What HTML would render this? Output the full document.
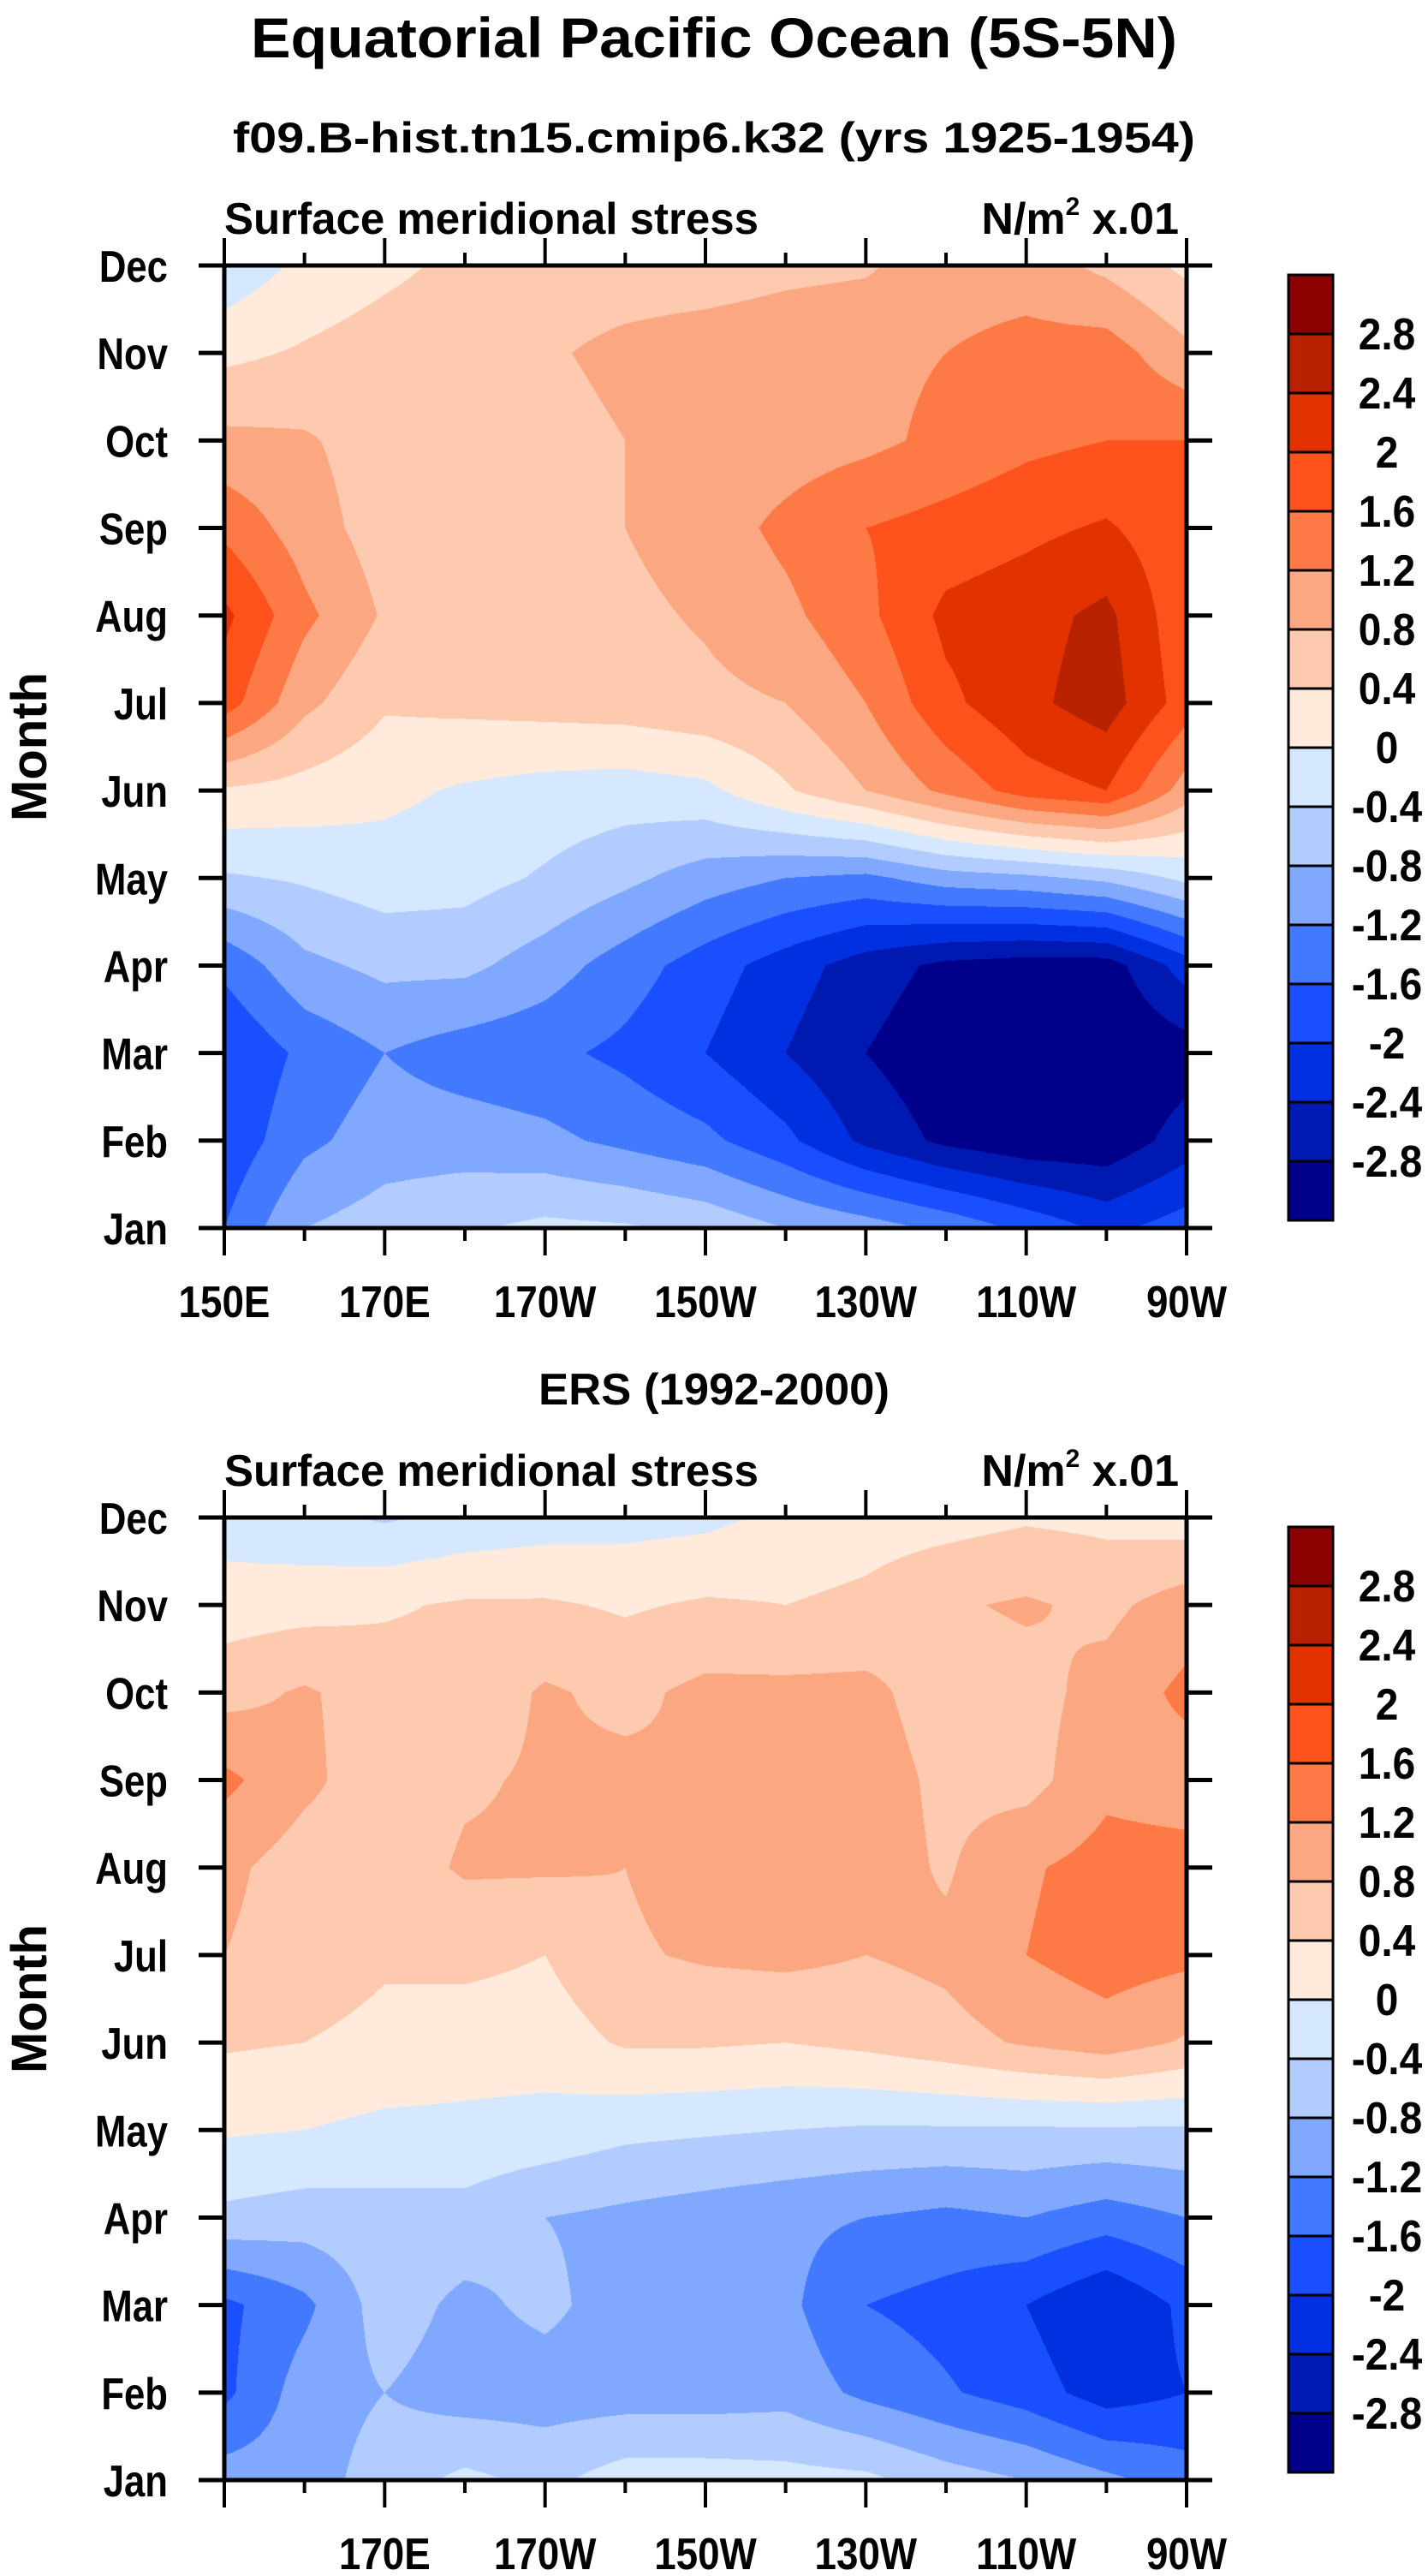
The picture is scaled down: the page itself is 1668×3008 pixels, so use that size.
<!DOCTYPE html>
<html><head><meta charset="utf-8"><style>
html,body{margin:0;padding:0;background:#fff;}
#wrap{position:relative;width:1668px;height:3008px;overflow:hidden;}
canvas{position:absolute;}
svg{position:absolute;left:0;top:0;}
text{font-family:"Liberation Sans",Arial,sans-serif;font-weight:bold;fill:#000;}
</style></head><body>
<div id="wrap">
<canvas id="c1" width="1124" height="1124" style="left:262px;top:310px"></canvas>
<canvas id="c2" width="1124" height="1124" style="left:262px;top:1772px"></canvas>
<svg id="s" width="1668" height="3008"></svg>
</div>
<script>
// ---- data ----
const lons = [150,160,170,180,190,200,210,220,230,240,250,260,270];
const months = ["Jan","Feb","Mar","Apr","May","Jun","Jul","Aug","Sep","Oct","Nov","Dec"];
const levels = [-2.8,-2.4,-2,-1.6,-1.2,-0.8,-0.4,0,0.4,0.8,1.2,1.6,2,2.4,2.8];
const levelLabels = ["-2.8","-2.4","-2","-1.6","-1.2","-0.8","-0.4","0","0.4","0.8","1.2","1.6","2","2.4","2.8"];
const colors = ["#00008a","#0019b0","#0030e0","#1a4fff","#4279ff","#80a8ff","#b3ccff","#d5e8ff","#ffeadb","#fdcab0","#fba882","#fd7a46","#fe521c","#e23200","#b82200","#8b0000"];
const xTickLons = [150,170,190,210,230,250,270];
const xTickLabels = ["150E","170E","170W","150W","130W","110W","90W"];
// model (rows Jan..Dec, columns 150E..90W)
const model = [
[-1.6,-0.8,-0.6,-0.45,-0.3,-0.35,-0.5,-0.8,-1.0,-1.3,-1.7,-2.1,-1.8],
[-1.9,-1.3,-1.0,-1.0,-1.1,-1.3,-1.5,-1.9,-2.5,-2.9,-3.1,-3.1,-2.6],
[-2.0,-1.5,-1.2,-1.4,-1.5,-1.7,-2.0,-2.4,-2.8,-3.1,-3.2,-3.2,-3.0],
[-1.5,-0.9,-0.7,-0.7,-1.0,-1.4,-1.8,-2.2,-2.6,-2.9,-3.0,-3.0,-2.2],
[-0.45,-0.35,-0.2,-0.25,-0.45,-0.7,-1.0,-1.2,-1.3,-1.0,-0.9,-0.7,-0.3],
[0.35,0.25,0.1,-0.05,-0.15,-0.2,-0.1,0.35,0.8,1.3,1.8,2.0,1.0],
[1.8,0.9,0.45,0.5,0.55,0.6,0.7,0.8,1.2,1.9,2.3,2.6,1.8],
[2.1,1.3,0.75,0.6,0.6,0.7,0.85,1.1,1.5,2.1,2.25,2.5,1.7],
[1.5,1.0,0.6,0.6,0.7,0.8,1.0,1.3,1.6,1.75,1.9,2.05,1.7],
[0.9,0.85,0.6,0.6,0.65,0.8,0.95,1.0,1.1,1.3,1.5,1.6,1.6],
[0.3,0.45,0.6,0.7,0.75,0.9,1.0,1.05,1.1,1.2,1.35,1.4,0.9],
[-0.3,0.1,0.3,0.5,0.6,0.6,0.6,0.7,0.75,1.0,1.0,0.7,0.3]
];
// ERS observations
const ers = [
[-1.0,-1.0,-0.6,-0.3,-0.5,-0.2,-0.2,-0.25,-0.3,-0.6,-0.8,-1.1,-1.4],
[-1.7,-1.0,-0.8,-1.0,-1.0,-1.0,-1.0,-0.95,-1.3,-1.55,-1.8,-2.2,-2.0],
[-1.7,-1.3,-0.6,-0.9,-0.7,-1.0,-1.0,-1.1,-1.6,-1.75,-2.0,-2.4,-1.9],
[-0.5,-0.6,-0.55,-0.55,-0.8,-0.9,-1.0,-1.1,-1.2,-1.3,-1.2,-1.4,-1.2],
[0.05,0.0,-0.1,-0.1,-0.15,-0.3,-0.35,-0.4,-0.45,-0.45,-0.45,-0.45,-0.45],
[0.45,0.4,0.3,0.2,0.2,0.45,0.45,0.4,0.5,0.65,0.85,1.0,0.75],
[0.8,0.6,0.45,0.5,0.4,0.75,0.85,0.9,0.8,0.9,1.2,1.4,1.3],
[0.9,0.6,0.6,0.85,0.85,0.8,0.95,1.0,1.0,0.75,1.15,1.35,1.35],
[1.3,0.9,0.55,0.75,0.85,0.9,0.8,0.95,1.0,0.7,0.65,1.1,1.0],
[0.65,0.85,0.6,0.55,0.85,0.7,0.9,0.9,0.9,0.6,0.65,0.95,1.3],
[0.2,0.25,0.35,0.45,0.45,0.35,0.45,0.4,0.5,0.75,0.85,0.7,1.0],
[-0.2,-0.3,-0.45,-0.3,-0.2,-0.15,-0.1,0.1,0.2,0.25,0.35,0.3,0.2]
];

const PL=262, PW=1124, PH=1124;
const plotTops=[310,1772];
function xOf(lon){return PL+(lon-150)/120*PW;}
function yOf(top,mi){return top+PH-mi/11*PH;}
function colorIdx(v){let i=0;while(i<levels.length&&v>=levels[i])i++;return i;}
function hexRGB(h){return [parseInt(h.substr(1,2),16),parseInt(h.substr(3,2),16),parseInt(h.substr(5,2),16)];}
const rgb=colors.map(hexRGB);

function drawField(canvas,grid){
  const ctx=canvas.getContext('2d');
  const img=ctx.createImageData(PW,PH);
  const nc=lons.length, nr=months.length;
  for(let py=0;py<PH;py++){
    const fr=(PH-0.5-py)/PH*(nr-1);
    let r0=Math.floor(fr); if(r0>=nr-1)r0=nr-2; if(r0<0)r0=0;
    const ty=fr-r0;
    for(let px=0;px<PW;px++){
      const fc=(px+0.5)/PW*(nc-1);
      let c0=Math.floor(fc); if(c0>=nc-1)c0=nc-2;
      const tx=fc-c0;
      const v=(grid[r0][c0]*(1-tx)+grid[r0][c0+1]*tx)*(1-ty)+(grid[r0+1][c0]*(1-tx)+grid[r0+1][c0+1]*tx)*ty;
      const c=rgb[colorIdx(v)];
      const k=(py*PW+px)*4;
      img.data[k]=c[0];img.data[k+1]=c[1];img.data[k+2]=c[2];img.data[k+3]=255;
    }
  }
  ctx.putImageData(img,0,0);
}
drawField(document.getElementById('c1'),model);
drawField(document.getElementById('c2'),ers);

const NS="http://www.w3.org/2000/svg";
const svg=document.getElementById('s');
function el(tag,attrs,parent){const e=document.createElementNS(NS,tag);for(const k in attrs)e.setAttribute(k,attrs[k]);(parent||svg).appendChild(e);return e;}
function txt(str,x,y,size,anchor,width){
  const t=el('text',{x:x,y:y,'font-size':size,'text-anchor':anchor||'start'});
  t.textContent=str;
  if(width){t.setAttribute('textLength',width);t.setAttribute('lengthAdjust','spacingAndGlyphs');}
  return t;
}
function condense(t,f){const w=t.getComputedTextLength();t.setAttribute('textLength',w*f);t.setAttribute('lengthAdjust','spacingAndGlyphs');}

let t;
t=txt("Equatorial Pacific Ocean (5S-5N)",834,67,66,'middle',1082);


t=txt("f09.B-hist.tn15.cmip6.k32 (yrs 1925-1954)",834,178,50,'middle',1124);


t=txt("ERS (1992-2000)",834,1640,52,'middle',410);



plotTops.forEach(function(top,pi){
  const g=el('g',{});
  
  
  let a=txt("Surface meridional stress",PL,top-37,52,'start',624);
  g.appendChild(a);
  
  
  let u=el('text',{x:1377,y:top-37,'font-size':52,'text-anchor':'end'},g);
  
  
  u.innerHTML='N/m<tspan dy="-22" font-size="30">2</tspan><tspan dy="22"> x.01</tspan>';
  const fr=el('rect',{x:PL,y:top,width:PW,height:PH,fill:'none',stroke:'#000','stroke-width':5},g);
  
  
  months.forEach(function(m,i){
    const y=yOf(top,i);
    el('line',{x1:PL-30,x2:PL,y1:y,y2:y,stroke:'#000','stroke-width':5},g);
    el('line',{x1:PL+PW,x2:PL+PW+30,y1:y,y2:y,stroke:'#000','stroke-width':5},g);
    const lt=txt(m,196,y+19,52,'end');
    g.appendChild(lt);
    condense(lt,0.84);
    
    
  });
  for(let lon=150;lon<=270;lon+=10){
    const x=xOf(lon);
    const major=(lon-150)%20===0;
    const len=major?32:15;
    el('line',{x1:x,x2:x,y1:top-len,y2:top,stroke:'#000','stroke-width':4},g);
    el('line',{x1:x,x2:x,y1:top+PH,y2:top+PH+len,stroke:'#000','stroke-width':4},g);
  }
  xTickLons.forEach(function(lon,i){
    if(pi===1&&i===0)return;
    const xl=txt(xTickLabels[i],xOf(lon),top+PH+104,52,'middle');
    g.appendChild(xl);
    condense(xl,0.88);
    
    
  });
  const my=top+PH/2;
  const ml=el('text',{x:54,y:my,'font-size':58,'text-anchor':'middle',transform:'rotate(-90 54 '+my+')'},g);
  ml.textContent='Month';
  
  
  const cbTop=top+11, cbL=1505, cbW=52, bh=69;
  const cb=el('g',{},g);
  
  
  for(let k=0;k<colors.length;k++){
    const r=el('rect',{x:cbL,y:cbTop+bh*(colors.length-1-k),width:cbW,height:bh,fill:colors[k],stroke:'#000','stroke-width':3},cb);
    
    
  }
  levelLabels.forEach(function(l,k){
    const y=cbTop+bh*(colors.length-1-k);
    const ct=txt(l,1620,y+18,52,'middle');
    cb.appendChild(ct);
    condense(ct,0.92);
    
    
  });
});
</script>
</body></html>
